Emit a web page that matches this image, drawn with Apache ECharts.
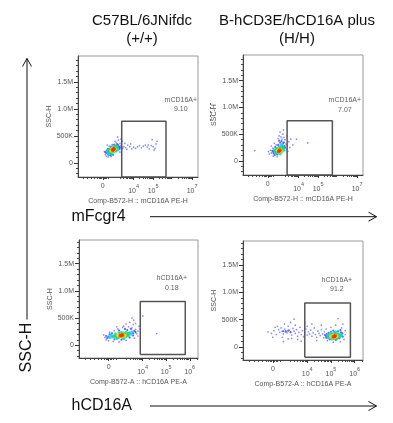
<!DOCTYPE html>
<html><head><meta charset="utf-8">
<script src="https://cdn.jsdelivr.net/npm/echarts@6/dist/echarts.min.js"></script>
<style>html,body{margin:0;padding:0;background:#fff}#c{width:393px;height:423px}</style>
</head><body><div id="c"></div>
<script>
// ---------- text ----------
const columnTitles = [['C57BL/6JNifdc', '(+/+)'], ['B-hCD3E/hCD16A plus', '(H/H)']];
const rowTitles = ['mFcgr4', 'hCD16A'];
const outerYTitle = 'SSC-H';
const yAxisTitle = 'SSC-H';
const xAxisTitles = ['Comp-B572-H :: mCD16A PE-H', 'Comp-B572-H :: mCD16A PE-H',
                     'Comp-B572-A :: hCD16A PE-A', 'Comp-B572-A :: hCD16A PE-A'];
const yTickValues = [0, 500, 1000, 1500];           // SSC-H in K
const yTickLabels = ['0', '500K', '1.0M', '1.5M'];
const topDecades = [4, 5, 7];                        // labelled 10^n ticks (top row)
const bottomDecades = [4, 5, 6];                     // labelled 10^n ticks (bottom row)

// ---------- gates: [xLeft, xRight, yBottom, yTop] (x in log10 units, y in K) ----------
const gateNames = ['mCD16A+', 'mCD16A+', 'hCD16A+', 'hCD16A+'];
const gatePercents = ['9.10', '7.07', '0.18', '91.2'];
const gateBoxes = [[3.39, 5.66, -262, 770], [3.41, 5.73, -262, 750], [3.9, 5.81, -171, 805], [3.9, 5.82, -184, 805]];
const gateLabelAt = [[6.42, 1078], [6.37, 1046], [5.24, 1140], [5.25, 1140]];

// ---------- events: [log10 fluorescence, SSC-H (K), density level 1..6] ----------
const tlCloud = [
 [2.95,245,6],[2.98,255,6],[2.92,238,6],[3.0,262,6],
 [2.88,230,5],[3.02,270,5],[2.9,250,5],[3.05,255,5],[2.85,220,5],[2.98,230,5],[2.93,270,5],
 [2.78,210,4],[2.82,240,4],[2.88,200,4],[3.08,280,4],[3.1,260,4],[2.95,290,4],[2.8,190,4],[3.0,215,4],[3.12,300,4],[2.75,230,4],[2.9,280,4],[3.05,235,4],
 [2.7,200,3],[2.72,175,3],[2.85,170,3],[3.15,310,3],[3.18,280,3],[2.8,265,3],[2.95,310,3],[3.2,240,3],[2.65,215,3],[3.05,320,3],[2.9,160,3],[3.1,220,3],
 [2.6,180,2],[2.62,230,2],[2.7,150,2],[2.8,140,2],[3.2,330,2],[3.25,300,2],[3.28,260,2],[2.85,300,2],[3.0,340,2],[3.15,350,2],[2.55,200,2],[2.68,260,2],[3.3,290,2],[2.95,150,2],
 [2.55,150,1],[2.6,120,1],[2.5,210,1],[2.75,310,1],[3.1,380,1],[3.22,420,1],[3.3,360,1],[3.35,320,1],[3.38,250,1],[2.9,340,1],[3.05,400,1],[3.18,480,1],[2.7,110,1],[2.85,120,1],[3.3,200,1],[3.35,440,1],[3.4,290,1],[3.45,270,1],[3.5,300,1],[3.6,280,1],[3.7,330,1],[3.8,300,1],[3.9,260,1],[4.0,290,1],[4.2,300,1],[4.4,280,1],[4.5,310,1],[4.6,330,1],[4.7,290,1],[4.8,260,1],[4.9,320,1],[5.0,300,1],[5.1,270,1],[5.15,350,1],[5.2,400,1],[4.95,430,1],[5.05,240,1],[4.75,330,1],[4.3,320,1],[3.55,360,1],[3.65,250,1],[3.85,350,1],[4.1,270,1],[3.42,400,1],[2.65,330,1]
];
const trCloud = [
 [3.0,190,6],[3.04,200,6],[2.98,180,6],
 [2.95,175,5],[3.08,210,5],[3.02,170,5],[2.92,195,5],[3.1,190,5],[3.0,215,5],
 [2.88,165,4],[3.12,230,4],[2.9,210,4],[3.15,200,4],[2.85,180,4],[3.05,240,4],[2.95,150,4],[3.1,165,4],[3.18,250,4],[2.82,200,4],
 [2.8,160,3],[2.78,185,3],[3.2,270,3],[3.22,230,3],[2.88,240,3],[3.0,260,3],[3.1,290,3],[2.85,140,3],[3.15,310,3],[2.75,210,3],[3.25,200,3],[3.05,130,3],
 [2.7,170,2],[2.72,140,2],[3.28,280,2],[3.2,330,2],[2.95,300,2],[3.05,340,2],[3.12,370,2],[2.8,260,2],[3.3,250,2],[2.65,190,2],[2.9,120,2],[3.25,350,2],[3.0,380,2],[2.78,110,2],
 [2.6,150,1],[2.55,200,1],[2.68,240,1],[2.85,300,1],[2.95,420,1],[3.1,450,1],[3.2,500,1],[3.05,540,1],[3.15,410,1],[3.3,400,1],[3.35,320,1],[3.38,230,1],[3.42,300,1],[3.5,360,1],[3.6,410,1],[3.89,407,1],[4.47,338,1],[1.75,195,1],[2.45,175,1],[2.5,130,1],[2.7,90,1],[2.9,80,1],[3.0,470,1],[3.25,440,1],[2.75,330,1],[3.45,180,1],[3.55,250,1],[3.7,300,1],[3.4,470,1],[2.6,280,1],[3.22,580,1]
];
const blCloud = [
 [3.1,180,6],[3.15,190,6],[3.05,175,6],
 [3.0,170,5],[3.2,195,5],[3.1,200,5],[2.95,185,5],[3.25,180,5],[3.12,160,5],
 [2.9,165,4],[2.85,180,4],[3.3,200,4],[3.35,185,4],[3.0,150,4],[3.2,220,4],[3.05,210,4],[2.95,145,4],[3.4,210,4],[2.8,160,4],[3.15,140,4],[3.28,160,4],
 [2.75,175,3],[2.7,150,3],[3.45,230,3],[3.5,200,3],[2.85,210,3],[3.1,240,3],[3.3,240,3],[2.9,125,3],[3.4,170,3],[2.65,190,3],[3.55,250,3],[3.2,120,3],[2.6,140,3],[3.0,230,3],
 [2.55,160,2],[2.5,130,2],[3.6,220,2],[3.65,260,2],[2.7,220,2],[3.0,270,2],[3.35,280,2],[3.45,140,2],[2.8,110,2],[3.1,100,2],[3.6,180,2],[2.6,200,2],[3.5,300,2],[3.25,300,2],[2.45,170,2],[3.7,240,2],
 [2.4,140,1],[2.35,190,1],[2.45,100,1],[2.6,240,1],[2.8,270,1],[2.95,300,1],[3.15,330,1],[3.4,340,1],[3.55,320,1],[3.7,290,1],[3.75,210,1],[3.8,260,1],[3.85,350,1],[3.6,380,1],[3.3,390,1],[3.45,420,1],[3.62,460,1],[3.7,400,1],[4.01,539,1],[4.6,215,1],[2.55,80,1],[2.75,70,1],[3.0,60,1],[3.3,90,1],[3.65,130,1],[3.8,170,1],[3.9,300,1],[2.9,340,1],[3.55,500,1],[3.2,350,1]
];
const brCloud = [
 [5.14,195,6],[5.18,205,6],[5.1,190,6],
 [5.05,185,5],[5.22,210,5],[5.15,175,5],[5.1,215,5],[5.25,195,5],[5.0,200,5],
 [4.98,180,4],[5.28,220,4],[5.3,190,4],[5.02,220,4],[5.12,160,4],[5.2,240,4],[4.95,205,4],[5.35,210,4],[5.08,240,4],[5.22,170,4],
 [4.9,190,3],[4.92,220,3],[5.4,230,3],[5.38,190,3],[5.0,250,3],[5.15,260,3],[5.3,250,3],[4.88,170,3],[5.05,150,3],[5.25,150,3],[5.45,210,3],[4.85,210,3],[5.2,280,3],
 [4.8,200,2],[4.82,240,2],[4.8,170,2],[5.48,250,2],[5.5,190,2],[5.0,280,2],[5.3,290,2],[5.1,300,2],[4.95,140,2],[5.2,130,2],[4.75,220,2],[5.42,270,2],[5.35,160,2],[4.9,260,2],[5.4,310,2],
 [3.1,280,2],[3.2,300,2],[3.3,270,2],[3.0,290,2],
 [2.35,280,1],[2.5,250,1],[2.6,300,1],[2.7,230,1],[2.8,320,1],[2.85,270,1],[2.9,350,1],[2.95,290,1],[3.0,240,1],[3.05,330,1],[3.1,300,1],[3.15,260,1],[3.2,380,1],[3.25,310,1],[3.3,280,1],[3.35,220,1],[3.4,340,1],[3.45,290,1],[3.5,250,1],[3.55,320,1],[3.6,200,1],[3.65,270,1],[3.7,360,1],[3.75,230,1],[3.8,300,1],[3.85,190,1],[3.9,260,1],[3.95,330,1],[4.0,220,1],[4.05,280,1],[4.1,240,1],[4.15,310,1],[4.2,200,1],[4.25,260,1],[4.3,350,1],[4.35,230,1],[4.4,180,1],[4.45,290,1],[4.5,250,1],[4.55,210,1],[4.6,320,1],[4.65,240,1],[4.7,170,1],[4.72,280,1],[2.75,380,1],[3.05,420,1],[3.3,450,1],[3.5,400,1],[2.95,180,1],[3.2,150,1],[3.6,140,1],[3.0,100,1],[4.2,420,1],[4.6,400,1],[5.3,520,1],[5.2,400,1],[5.45,350,1],[5.6,230,1],[5.55,140,1],[5.6,300,1],[4.85,120,1],[5.1,90,1],[5.4,100,1],[2.55,180,1],[3.35,160,1],[3.75,110,1],[4.0,380,1],[4.4,120,1],[2.65,360,1],[3.9,440,1],[3.45,510,1],[4.8,330,1],[5.0,360,1],[5.5,420,1]
];
const clouds = [tlCloud, trCloud, blCloud, brCloud];

// ---------- layout / style ----------
const FONT = '"Liberation Sans", Arial, sans-serif';
const densityColors = {1:'#6a6aff', 2:'#2a3cff', 3:'#00c8ff', 4:'#22dd44', 5:'#f0e800', 6:'#ff2a00'};
const densitySizes = {1:1.7, 2:2.1, 3:3, 4:3.4, 5:3.6, 6:3.8};
const panels = [
  {left:78,  top:56,  width:120, height:121, xMin:1.15, xMax:7.3,  zero:2.42, yMin:-262, yMax:1980, decades:topDecades},
  {left:243, top:55,  width:120, height:120, xMin:1.15, xMax:7.3,  zero:2.42, yMin:-262, yMax:1980, decades:topDecades},
  {left:79,  top:240, width:119, height:118, xMin:1.3,  xMax:6.35, zero:2.56, yMin:-235, yMax:1935, decades:bottomDecades},
  {left:243, top:241, width:120, height:119, xMin:1.3,  xMax:6.35, zero:2.56, yMin:-235, yMax:1935, decades:bottomDecades}
];

function minorX(p) {
  const v = [];
  for (let k = 3; k <= 7; k++) for (let m = 2; m <= 9; m++) {
    const t = k + Math.log10(m);
    if (t > p.zero + 0.3 && t < p.xMax) v.push(t);
  }
  [-1.0, -0.8, -0.6, -0.45, -0.3, -0.2, -0.12, -0.06, 0.06, 0.12, 0.2, 0.3].forEach(d => v.push(p.zero + d));
  return v.filter(t => t > p.xMin && t < p.xMax);
}
function minorY(p) {
  const v = [];
  for (let y = -200; y < p.yMax; y += 100) if (yTickValues.indexOf(y) < 0) v.push(y);
  return v;
}

const grid = [], xAxis = [], yAxis = [], series = [];
panels.forEach((p, i) => {
  grid.push({left:p.left, top:p.top, width:p.width, height:p.height, show:true,
    borderColor:'#9a9a9a', borderWidth:1, backgroundColor:'transparent'});
  const majors = [p.zero].concat(p.decades);
  xAxis.push({type:'value', gridIndex:i, min:p.xMin, max:p.xMax, position:'bottom',
    axisLine:{show:true, onZero:false, lineStyle:{color:'#444', width:1}},
    splitLine:{show:false},
    axisTick:{show:true, customValues:majors, length:3, lineStyle:{color:'#333'}},
    axisLabel:{show:true, customValues:majors, margin:6, fontSize:7, color:'#555', fontFamily:FONT,
      formatter: v => Math.abs(v - p.zero) < 1e-6 ? '{b|0}' : '{b|10}{s|' + Math.round(v) + '}',
      rich:{b:{fontSize:7, color:'#555', fontFamily:FONT, verticalAlign:'bottom'},
            s:{fontSize:5.5, color:'#555', fontFamily:FONT, verticalAlign:'bottom', padding:[0,0,6,0]}}},
    name:xAxisTitles[i], nameLocation:'middle', nameGap:21,
    nameTextStyle:{fontSize:7, color:'#555', fontFamily:FONT}});
  xAxis.push({type:'value', gridIndex:i, min:p.xMin, max:p.xMax, position:'bottom',
    axisLine:{show:false, onZero:false}, splitLine:{show:false}, axisLabel:{show:false},
    axisTick:{show:true, customValues:minorX(p), length:2, lineStyle:{color:'#444'}}});
  yAxis.push({type:'value', gridIndex:i, min:p.yMin, max:p.yMax, position:'left',
    axisLine:{show:true, onZero:false, lineStyle:{color:'#444', width:1}},
    splitLine:{show:false},
    axisTick:{show:true, customValues:yTickValues, length:4, lineStyle:{color:'#333'}},
    axisLabel:{show:true, customValues:yTickValues, margin:5, fontSize:7, color:'#555', fontFamily:FONT,
      formatter: v => yTickLabels[yTickValues.indexOf(Math.round(v))]},
    name:yAxisTitle, nameLocation:'middle', nameGap:22,
    nameTextStyle:{fontSize:7, color:'#555', fontFamily:FONT}});
  yAxis.push({type:'value', gridIndex:i, min:p.yMin, max:p.yMax, position:'left',
    axisLine:{show:false, onZero:false}, splitLine:{show:false}, axisLabel:{show:false},
    axisTick:{show:true, customValues:minorY(p), length:2, lineStyle:{color:'#444'}}});

  const data = clouds[i].slice().sort((a, b) => a[2] - b[2]);
  series.push({type:'scatter', xAxisIndex:2*i, yAxisIndex:2*i, data:data,
    symbol:'circle', symbolSize: v => densitySizes[v[2]],
    itemStyle:{color: pr => densityColors[pr.value[2]]}, z:2, silent:true});
  const g = gateBoxes[i];
  series.push({type:'line', xAxisIndex:2*i, yAxisIndex:2*i,
    data:[[g[0],g[2]],[g[0],g[3]],[g[1],g[3]],[g[1],g[2]],[g[0],g[2]]],
    showSymbol:false, symbol:'none', lineStyle:{color:'#555', width:1.5}, z:3, silent:true});
  series.push({type:'scatter', xAxisIndex:2*i, yAxisIndex:2*i, data:[gateLabelAt[i]],
    symbolSize:1, itemStyle:{color:'transparent'}, z:4, silent:true,
    label:{show:true, position:'inside', formatter: gateNames[i] + '\n' + gatePercents[i],
      fontSize:7, lineHeight:9.5, color:'#333', fontFamily:FONT}});
});

const graphic = [];
columnTitles.forEach((t, i) => {
  const cx = i === 0 ? 142 : 297;
  graphic.push({type:'text', x:cx, y:20.5, style:{text:t[0], textAlign:'center', textVerticalAlign:'middle', font:'15px ' + FONT, fill:'#111'}});
  graphic.push({type:'text', x:cx, y:38.5, style:{text:t[1], textAlign:'center', textVerticalAlign:'middle', font:'15px ' + FONT, fill:'#111'}});
});
[216.7, 406].forEach((y, i) => {
  graphic.push({type:'text', x:71.5, y:y, style:{text:rowTitles[i], textAlign:'left', textVerticalAlign:'middle', font:'16px ' + FONT, fill:'#111'}});
  graphic.push({type:'line', shape:{x1:150, y1:y, x2:376.5, y2:y}, style:{stroke:'#111', lineWidth:1}});
  graphic.push({type:'polyline', shape:{points:[[368.5, y-4.5],[376.5, y],[368.5, y+4.5]]}, style:{stroke:'#111', lineWidth:1, fill:null}});
});
graphic.push({type:'line', shape:{x1:27, y1:58.5, x2:27, y2:319.5}, style:{stroke:'#111', lineWidth:1}});
graphic.push({type:'polyline', shape:{points:[[22.5, 66.5],[27, 58.5],[31.5, 66.5]]}, style:{stroke:'#111', lineWidth:1, fill:null}});
graphic.push({type:'text', x:27, y:347.5, rotation:Math.PI/2, style:{text:outerYTitle, textAlign:'center', textVerticalAlign:'middle', font:'16px ' + FONT, fill:'#111'}});
graphic.push({type:'line', shape:{x1:210.5, y1:103, x2:210.5, y2:123}, style:{stroke:'#666', lineWidth:1, lineDash:[2,2]}});

const chart = echarts.init(document.getElementById('c'), null, {renderer:'canvas'});
chart.setOption({animation:false, backgroundColor:'#fff', grid, xAxis, yAxis, series, graphic});
</script></body></html>
